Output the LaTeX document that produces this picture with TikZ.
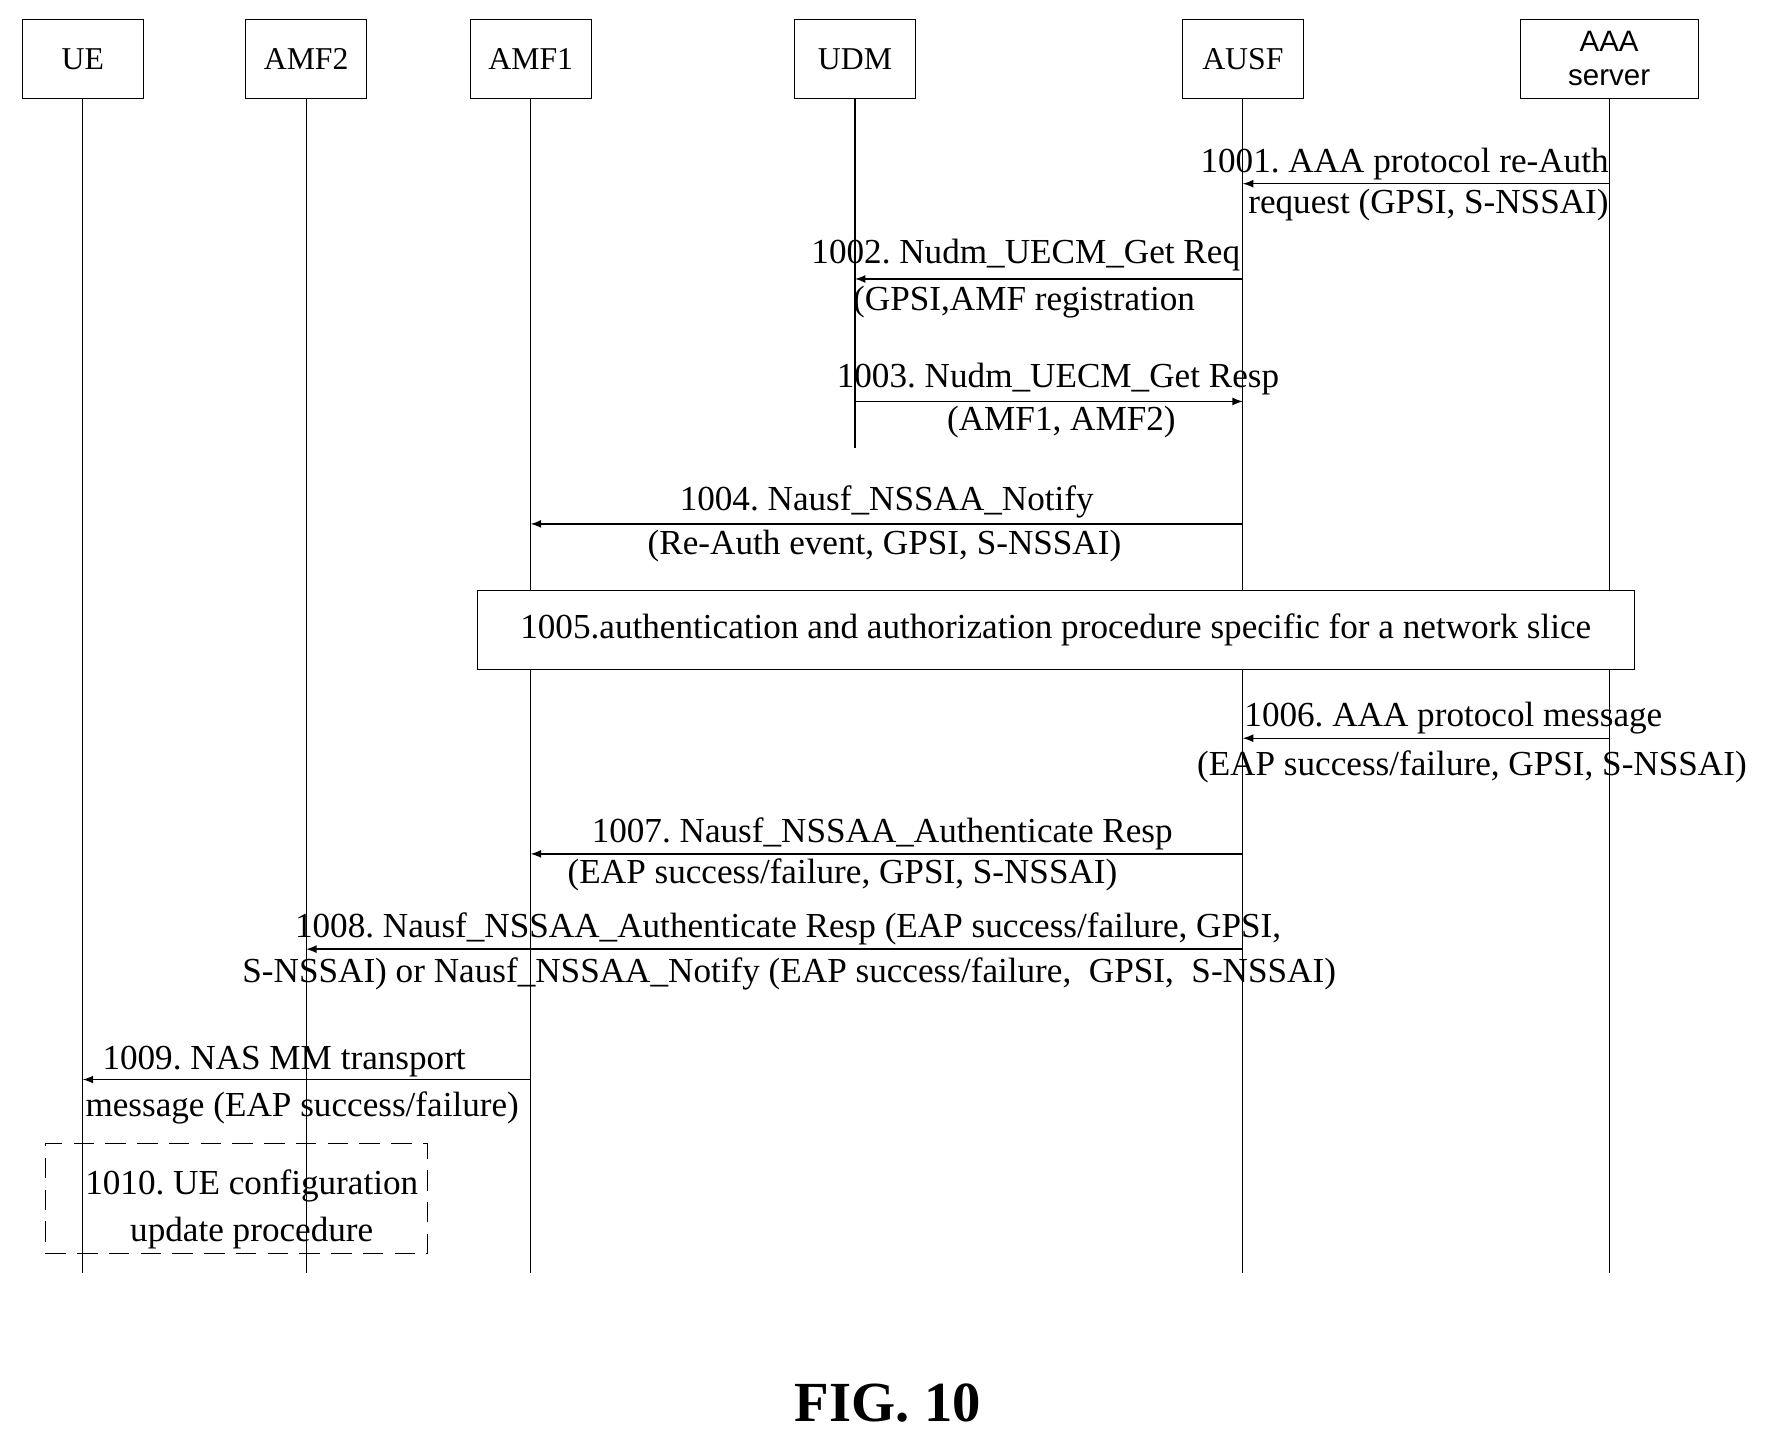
\documentclass[tikz,border=0pt]{standalone}
\usepackage{fontspec}
\setmainfont{Liberation Serif}
\newfontfamily\sansf{Liberation Sans}
\begin{document}
\frenchspacing
\begin{tikzpicture}[x=0.5pt,y=-0.5pt,
  ent/.style={draw,minimum width=53.5pt,minimum height=34.5pt,inner sep=0pt,font=\fontsize{14}{14}\selectfont},
  life/.style={draw,line width=0.5pt},
  msg/.style={draw,line width=0.6pt,-latex},
  lb/.style={font=\fontsize{15.5}{16}\selectfont,inner sep=0pt}]
\useasboundingbox (0,0) rectangle (1560,1265);
\node[ent] (ue) at (73,52) {UE};
\node[ent] (amf2) at (270,52) {AMF2};
\node[ent] (amf1) at (468,52) {AMF1};
\node[ent] (udm) at (754,52) {UDM};
\node[ent] (ausf) at (1096,52) {AUSF};
\node[ent,minimum width=78.5pt,font=\sansf\fontsize{13}{15}\selectfont,align=center] (aaa) at (1419,52) {AAA\\server};
\coordinate (eue) at (73,1123); \coordinate (eamf2) at (270,1123);
\coordinate (eamf1) at (468,1123); \coordinate (eudm) at (754,395);
\coordinate (eausf) at (1096,1123); \coordinate (eaaa) at (1419,1123);
\draw[life] (ue) -- (eue); \draw[life] (amf2) -- (eamf2); \draw[life] (amf1) -- (eamf1);
\draw[life] (udm) -- (eudm); \draw[life] (ausf) -- (eausf); \draw[life] (aaa) -- (eaaa);
% 1001
\coordinate (a1) at (1419,162); \coordinate (b1) at (1096,162);
\draw[msg] (a1) -- (b1);
\node[lb,anchor=base east] at (1419,152) {1001. AAA protocol re-Auth};
\node[lb,anchor=base east] at (1419,188) {request (GPSI, S-NSSAI)};
% 1002
\coordinate (a2) at (1096,246); \coordinate (b2) at (754,246);
\draw[msg] (a2) -- (b2);
\node[lb,anchor=base east] at (1094,232) {1002. Nudm\_UECM\_Get Req};
\node[lb,anchor=base west] at (752,274) {(GPSI,AMF registration};
% 1003
\coordinate (a3) at (754,354); \coordinate (b3) at (1096,354);
\draw[msg] (a3) -- (b3);
\node[lb,anchor=base] at (933,342) {1003. Nudm\_UECM\_Get Resp};
\node[lb,anchor=base] at (936,380) {(AMF1, AMF2)};
% 1004
\coordinate (a4) at (1096,462); \coordinate (b4) at (468,462);
\draw[msg] (a4) -- (b4);
\node[lb,anchor=base] at (782,450) {1004. Nausf\_NSSAA\_Notify};
\node[lb,anchor=base] at (780,489) {(Re-Auth event, GPSI, S-NSSAI)};
% 1005
\node[draw,fill=white,minimum width=510pt,minimum height=34.5pt,lb] (p5) at (931,555.5) {1005.authentication and authorization procedure specific for a network slice};
% 1006
\coordinate (a6) at (1419,651); \coordinate (b6) at (1096,651);
\draw[msg] (a6) -- (b6);
\node[lb,anchor=base west] at (1097,641) {1006. AAA protocol message};
\node[lb,anchor=base] at (1298,684) {(EAP success/failure, GPSI, S-NSSAI)};
% 1007
\coordinate (a7) at (1096,753); \coordinate (b7) at (468,753);
\draw[msg] (a7) -- (b7);
\node[lb,anchor=base] at (778,743) {1007. Nausf\_NSSAA\_Authenticate Resp};
\node[lb,anchor=base] at (743,779) {(EAP success/failure, GPSI, S-NSSAI)};
% 1008
\coordinate (a8) at (1096,837); \coordinate (b8) at (270,837);
\draw[msg] (a8) -- (b8);
\node[lb,anchor=base] at (695,827) {1008. Nausf\_NSSAA\_Authenticate Resp (EAP success/failure, GPSI,};
\node[lb,anchor=base] at (696,866) {S-NSSAI) or Nausf\_NSSAA\_Notify (EAP success/failure,\ \ GPSI,\ \ S-NSSAI)};
% 1009
\coordinate (a9) at (468,952); \coordinate (b9) at (73,952);
\draw[msg] (a9) -- (b9);
\node[lb,anchor=base west] at (90,943) {1009. NAS MM transport};
\node[lb,anchor=base west] at (75,985) {message (EAP success/failure)};
% 1010
\node[draw,dash pattern=on 9pt off 5pt,minimum width=168.5pt,minimum height=48.5pt] (p10) at (208.5,1056.5) {};
\node[lb,anchor=base] at (222,1053) {1010. UE configuration};
\node[lb,anchor=base] at (222,1095) {update procedure};
\node[font=\bfseries\fontsize{25}{25}\selectfont] (fig) at (783,1237) {FIG. 10};
\end{tikzpicture}
\end{document}
